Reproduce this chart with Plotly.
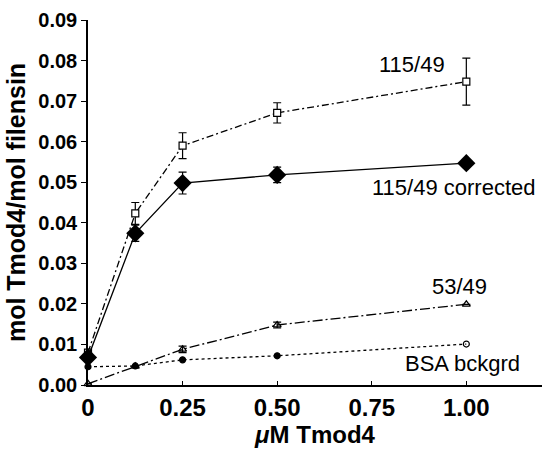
import plotly.graph_objects as go

conc = [0, 0.125, 0.25, 0.5, 1.0]

s115 = [0.008, 0.0423, 0.059, 0.0671, 0.0748]
s115_err = [0.0, 0.0027, 0.0032, 0.0025, 0.0058]

s115c = [0.0068, 0.0374, 0.0498, 0.0518, 0.0547]
s115c_err = [0.0, 0.002, 0.0027, 0.0019, 0.0]

s53 = [0.0003, 0.0046, 0.0088, 0.0148, 0.0199]
s53_err = [0.0, 0.0, 0.0008, 0.0007, 0.0]

bsa = [0.0045, 0.0047, 0.0062, 0.0072, 0.0101]

labels = ["115/49", "115/49 corrected", "53/49", "BSA bckgrd"]

xticks = [0, 0.25, 0.5, 0.75, 1.0]
xticklabels = ["0", "0.25", "0.50", "0.75", "1.00"]
yticks = [0, 0.01, 0.02, 0.03, 0.04, 0.05, 0.06, 0.07, 0.08, 0.09]
yticklabels = ["0.00", "0.01", "0.02", "0.03", "0.04", "0.05", "0.06", "0.07", "0.08", "0.09"]

FONT = "Liberation Sans, Arial, Helvetica, sans-serif"

fig = go.Figure()

def err(arr):
    return dict(type="data", array=arr, visible=True, color="black", thickness=1.2, width=4)

fig.add_trace(go.Scatter(
    x=conc, y=bsa, mode="lines+markers", cliponaxis=False,
    line=dict(color="black", width=1.3, dash="3px,3px"),
    marker=dict(symbol=["circle", "circle", "circle", "circle", "circle-open"], size=6,
                color="black", line=dict(color="black", width=1.2)),
))
fig.add_trace(go.Scatter(
    x=conc, y=s53, mode="lines+markers", cliponaxis=False,
    error_y=err(s53_err),
    line=dict(color="black", width=1.3, dash="10px,3px,2px,3px"),
    marker=dict(symbol="triangle-up-open", size=7, color="black", line=dict(color="black", width=1.2)),
))
fig.add_trace(go.Scatter(
    x=conc, y=s115, mode="lines+markers", cliponaxis=False,
    error_y=err(s115_err),
    line=dict(color="black", width=1.3, dash="7px,3px,2px,3px"),
    marker=dict(symbol="square", size=7, color="white", line=dict(color="black", width=1.2)),
))
fig.add_trace(go.Scatter(
    x=conc, y=s115c, mode="lines+markers", cliponaxis=False,
    error_y=err(s115c_err),
    line=dict(color="black", width=1.3),
    marker=dict(symbol="diamond", size=14, color="black"),
))

ann_font = dict(family=FONT, size=22, color="black")
fig.add_annotation(x=0.856, y=0.079, text=labels[0], showarrow=False, font=ann_font)
fig.add_annotation(x=0.965, y=0.0486, text=labels[1], showarrow=False, font=ann_font)
fig.add_annotation(x=0.983, y=0.0242, text=labels[2], showarrow=False, font=ann_font)
fig.add_annotation(x=0.989, y=0.0054, text=labels[3], showarrow=False, font=ann_font)

fig.update_layout(
    width=542, height=450,
    margin=dict(l=88, r=0, t=20, b=65),
    paper_bgcolor="white", plot_bgcolor="white",
    showlegend=False,
    font=dict(family=FONT, color="black"),
    xaxis=dict(
        range=[0, 1.2], showgrid=False, zeroline=False, automargin=False,
        showline=True, linecolor="black", linewidth=1.5,
        tickmode="array", tickvals=xticks, ticktext=xticklabels,
        ticks="inside", ticklen=4, tickcolor="black",
        tickfont=dict(size=24, family=FONT, weight="bold"),
        title=dict(text="<i>μ</i>M Tmod4", standoff=2,
                   font=dict(size=24, family=FONT, weight="bold")),
    ),
    yaxis=dict(
        range=[0, 0.09], showgrid=False, zeroline=False, automargin=False,
        showline=True, linecolor="black", linewidth=1.5,
        tickmode="array", tickvals=yticks, ticktext=yticklabels,
        ticks="outside", ticklen=5, tickcolor="black",
        tickfont=dict(size=20, family=FONT, weight="bold"),
        title=dict(text="mol Tmod4/mol filensin", standoff=6,
                   font=dict(size=25, family=FONT, weight="bold")),
    ),
)

fig.write_html("out.html", config={"displayModeBar": False},
               post_script="document.body.style.margin='0';document.body.style.overflow='hidden';")
